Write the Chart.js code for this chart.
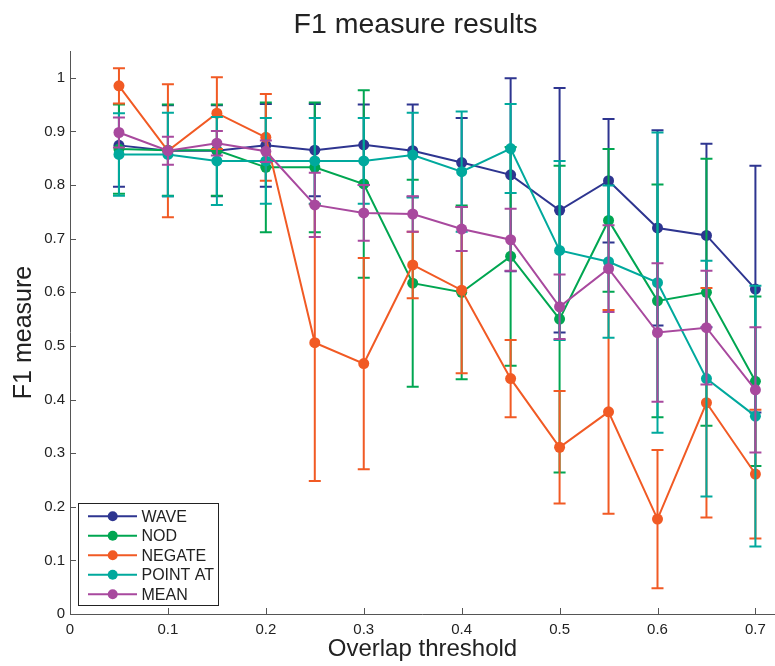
<!DOCTYPE html>
<html>
<head>
<meta charset="utf-8">
<title>F1 measure results</title>
<script src="https://cdn.jsdelivr.net/npm/chart.js@4.4.1/dist/chart.umd.min.js"></script>
<style>
  html, body { margin: 0; padding: 0; background: #fff; }
  canvas { display: block; }
</style>
</head>
<body>
<canvas id="myChart" width="775" height="666"></canvas>
<script>
// overlap thresholds (x) and axis ticks
var thresholds = [0.05, 0.1, 0.15, 0.2, 0.25, 0.3, 0.35, 0.4, 0.45, 0.5, 0.55, 0.6, 0.65, 0.7];
var xTicks = [0, 0.1, 0.2, 0.3, 0.4, 0.5, 0.6, 0.7];
var yTicks = [0, 0.1, 0.2, 0.3, 0.4, 0.5, 0.6, 0.7, 0.8, 0.9, 1];

// F1 values and error bar half-widths
var waveF1  = [0.874, 0.864, 0.864, 0.874, 0.865, 0.875, 0.864, 0.842, 0.819, 0.753, 0.808, 0.720, 0.706, 0.606];
var waveErr = [0.077, 0.085, 0.085, 0.077, 0.086, 0.075, 0.086, 0.083, 0.180, 0.228, 0.115, 0.182, 0.171, 0.230];

var nodF1  = [0.867, 0.865, 0.865, 0.833, 0.833, 0.802, 0.617, 0.600, 0.667, 0.550, 0.734, 0.584, 0.600, 0.434];
var nodErr = [0.083, 0.085, 0.085, 0.121, 0.121, 0.175, 0.193, 0.162, 0.204, 0.286, 0.133, 0.217, 0.249, 0.158];

var negateF1  = [0.985, 0.864, 0.934, 0.889, 0.506, 0.467, 0.651, 0.604, 0.439, 0.311, 0.377, 0.177, 0.394, 0.261];
var negateErr = [0.033, 0.124, 0.067, 0.081, 0.258, 0.197, 0.062, 0.155, 0.072, 0.105, 0.190, 0.129, 0.214, 0.120];

var pointF1  = [0.857, 0.857, 0.845, 0.845, 0.845, 0.845, 0.856, 0.825, 0.868, 0.678, 0.657, 0.618, 0.439, 0.369];
var pointErr = [0.077, 0.078, 0.082, 0.080, 0.080, 0.080, 0.079, 0.112, 0.083, 0.167, 0.142, 0.280, 0.220, 0.243];

var meanF1  = [0.898, 0.864, 0.878, 0.863, 0.763, 0.748, 0.746, 0.718, 0.698, 0.573, 0.644, 0.525, 0.534, 0.418];
var meanErr = [0.028, 0.026, 0.023, 0.020, 0.060, 0.052, 0.033, 0.041, 0.058, 0.060, 0.081, 0.129, 0.106, 0.117];

var seriesNames = ['WAVE', 'NOD', 'NEGATE', 'POINT AT', 'MEAN'];
var seriesValues = [waveF1, nodF1, negateF1, pointF1, meanF1];
var seriesErrors = [waveErr, nodErr, negateErr, pointErr, meanErr];
var seriesColors = ['#2e3590', '#00a651', '#f15a24', '#00a99d', '#a8499e'];

var FONT = "'Liberation Sans', Arial, Helvetica, sans-serif";
var TEXT = '#222';
Chart.defaults.font.family = FONT;

function toPoints(values) {
    return values.map(function (v, i) { return { x: thresholds[i], y: v }; });
}

var datasets = seriesNames.map(function (name, k) {
    return {
        label: name,
        data: toPoints(seriesValues[k]),
        err: seriesErrors[k],
        borderColor: seriesColors[k],
        backgroundColor: seriesColors[k],
        borderWidth: 2,
        pointRadius: 5.5,
        pointBorderWidth: 0,
        pointHoverRadius: 5.5,
        tension: 0,
        order: seriesNames.length - 1 - k   // later series on top, like MATLAB
    };
});

// error bars, axes with inward ticks, boxed legend, title
var matlabLook = {
    id: 'matlabLook',
    beforeDatasetDraw: function (chart, args) {
        var ds = chart.data.datasets[args.index];
        var xs = chart.scales.x, ys = chart.scales.y, ctx = chart.ctx;
        ctx.save();
        ctx.strokeStyle = ds.borderColor;
        ctx.lineWidth = 2;
        ds.data.forEach(function (p, i) {
            var e = ds.err[i];
            var px = xs.getPixelForValue(p.x);
            var top = ys.getPixelForValue(p.y + e);
            var bot = ys.getPixelForValue(p.y - e);
            ctx.beginPath();
            ctx.moveTo(px, top); ctx.lineTo(px, bot);
            ctx.moveTo(px - 6, top); ctx.lineTo(px + 6, top);
            ctx.moveTo(px - 6, bot); ctx.lineTo(px + 6, bot);
            ctx.stroke();
        });
        ctx.restore();
    },
    afterDraw: function (chart) {
        var ctx = chart.ctx, a = chart.chartArea;
        var xs = chart.scales.x, ys = chart.scales.y;
        ctx.save();
        // axes
        ctx.strokeStyle = '#555';
        ctx.lineWidth = 1;
        ctx.beginPath();
        ctx.moveTo(a.left + 0.5, a.top);
        ctx.lineTo(a.left + 0.5, a.bottom + 0.5);
        ctx.lineTo(chart.width, a.bottom + 0.5);
        xTicks.forEach(function (v) {
            var px = Math.round(xs.getPixelForValue(v)) + 0.5;
            ctx.moveTo(px, a.bottom);
            ctx.lineTo(px, a.bottom - 6);
        });
        yTicks.forEach(function (v) {
            var py = Math.round(ys.getPixelForValue(v)) + 0.5;
            ctx.moveTo(a.left, py);
            ctx.lineTo(a.left + 6, py);
        });
        ctx.stroke();

        // legend
        var lx = 78.5, ly = 503.5, lw = 140, lh = 102;
        ctx.fillStyle = '#fff';
        ctx.fillRect(lx, ly, lw, lh);
        ctx.strokeStyle = '#222';
        ctx.strokeRect(lx, ly, lw, lh);
        ctx.font = '16px ' + FONT;
        ctx.textBaseline = 'middle';
        ctx.textAlign = 'left';
        chart.data.datasets.forEach(function (ds, i) {
            var y = 516.3 + i * 19.5;
            ctx.strokeStyle = ds.borderColor;
            ctx.lineWidth = 2;
            ctx.beginPath();
            ctx.moveTo(88, y); ctx.lineTo(137, y);
            ctx.stroke();
            ctx.fillStyle = ds.borderColor;
            ctx.beginPath();
            ctx.arc(112.7, y, 5, 0, Math.PI * 2);
            ctx.fill();
            ctx.fillStyle = TEXT;
            ctx.fillText(ds.label, 141.5, y + 1);
        });

        // title
        ctx.font = '28.5px ' + FONT;
        ctx.textAlign = 'center';
        ctx.textBaseline = 'alphabetic';
        ctx.fillStyle = TEXT;
        ctx.fillText('F1 measure results', 415.5, 33);
        ctx.restore();
    }
};

var ctx = document.getElementById('myChart').getContext('2d');
var chart = new Chart(ctx, {
    type: 'line',
    data: { datasets: datasets },
    plugins: [matlabLook],
    options: {
        responsive: false,
        animation: false,
        devicePixelRatio: 1,
        layout: { autoPadding: false, padding: { top: 51, right: 0, bottom: 0, left: 0 } },
        plugins: {
            legend: { display: false },
            title: { display: false },
            tooltip: { enabled: false }
        },
        scales: {
            x: {
                type: 'linear',
                min: 0,
                max: 0.72,
                afterBuildTicks: function (s) { s.ticks = xTicks.map(function (v) { return { value: v }; }); },
                afterFit: function (s) { s.height = 52; s.paddingRight = 0; s.paddingLeft = 0; },
                grid: { display: false, drawTicks: false },
                border: { display: false },
                ticks: {
                    color: TEXT, font: { size: 15 }, padding: 7, maxRotation: 0, autoSkip: false,
                    callback: function (v) { return String(v); }
                },
                title: {
                    display: true, text: 'Overlap threshold', color: TEXT,
                    font: { size: 24 }, padding: { top: 0, bottom: 2 }
                }
            },
            y: {
                type: 'linear',
                min: 0,
                max: 1.05,
                afterBuildTicks: function (s) { s.ticks = yTicks.map(function (v) { return { value: v }; }); },
                afterFit: function (s) { s.width = 70; s.paddingTop = 0; s.paddingBottom = 0; },
                grid: { display: false, drawTicks: false },
                border: { display: false },
                ticks: {
                    color: TEXT, font: { size: 15 }, padding: 5, autoSkip: false,
                    callback: function (v) { return String(v); }
                },
                title: {
                    display: true, text: 'F1 measure', color: TEXT,
                    font: { size: 25 }, padding: { top: 9.5, bottom: 0 }
                }
            }
        }
    }
});
</script>
</body>
</html>
